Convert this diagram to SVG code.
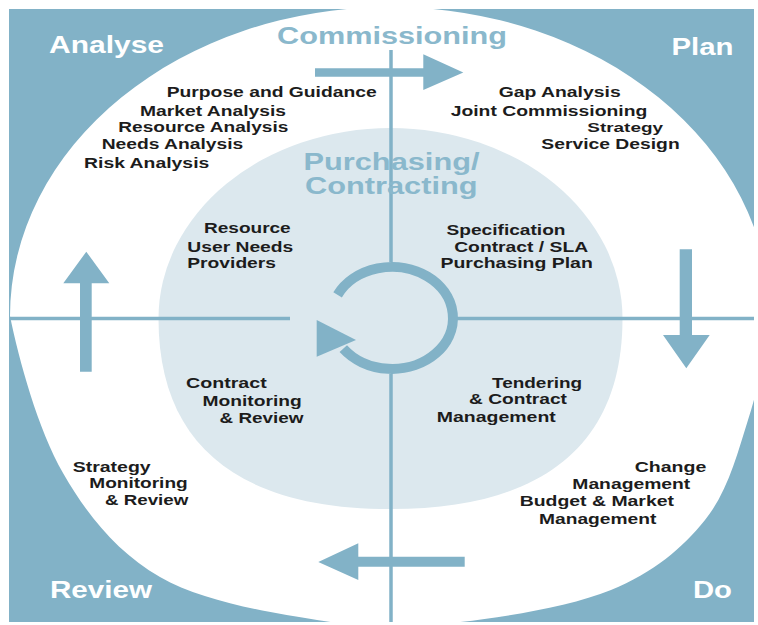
<svg xmlns="http://www.w3.org/2000/svg" width="758" height="625" viewBox="0 0 758 625">
<defs>
<style>
.bg{fill:#82b2c7}
.blue{fill:#82b2c7}
.ln{stroke:#82b2c7;stroke-width:3.5;fill:none}
.corner{font-family:"Liberation Sans",Arial,sans-serif;font-weight:bold;font-size:24px;fill:#ffffff}
.title{font-family:"Liberation Sans",Arial,sans-serif;font-weight:bold;font-size:23px;fill:#8ab8cc}
.t{font-family:"Liberation Sans",Arial,sans-serif;font-weight:bold;font-size:15.5px;fill:#1c1c1c}
.ts{font-family:"Liberation Sans",Arial,sans-serif;font-weight:bold;font-size:13px;fill:#1c1c1c}
</style>
<clipPath id="frame"><rect x="9" y="9" width="745" height="613"/></clipPath>
</defs>
<rect id="background" class="bg" x="9" y="9" width="745" height="613"/>
<g id="outer-ring" clip-path="url(#frame)">
<path fill="#ffffff" d="M10 316 A380 309 0 0 1 770 316 C766.3 350.7 758.8 386 748 420 C737.2 454 727.8 491.7 705 520 C682.2 548.3 653.3 572.8 611 590 C568.7 607.2 500 618 451 623 C402 628 365.5 627.7 317 620 C268.5 612.3 202.3 601.5 160 577 C117.7 552.5 88 516.5 63 473 C38 429.5 18.8 359.5 10 316 Z"/>
</g>
<g id="inner-circle">
<path fill="#dce8ee" d="M158.5 318.5 A232 190.5 0 0 1 622.5 318.5 C622.5 444.2 543.6 509 390.5 509 C237.4 509 158.5 444.2 158.5 318.5 Z"/>
</g>
<g id="connectors">
<line class="ln" x1="391" y1="50" x2="391" y2="262"/>
<line class="ln" x1="391" y1="374" x2="391" y2="622"/>
<line class="ln" x1="9" y1="318.5" x2="290" y2="318.5"/>
<line class="ln" x1="457" y1="318.5" x2="754" y2="318.5"/>
<path class="blue" d="M315 68.3 H423.3 V54.3 L463.3 72.5 L423.3 90 V76.7 H315 Z"/>
<path class="blue" d="M80 371.7 V283.3 H63.3 L86.3 251.7 L109.3 283.3 H91.7 V371.7 Z"/>
<path class="blue" d="M679.7 249.3 H692 V335 H709.7 L686.3 368.3 L663 335 H679.7 Z"/>
<path class="blue" d="M464.7 556.7 H358.3 V543.3 L318.3 562 L358.3 580 V566.7 H464.7 Z"/>
<path d="M337.6 294.8 A61 51 0 1 1 343.3 348.7" fill="none" stroke="#82b2c7" stroke-width="10"/>
<polygon class="blue" points="316.7,320 316.7,356.7 356,340"/>
</g>
<g id="corner-labels">
<text class="corner" x="49" y="52.5" textLength="115" lengthAdjust="spacingAndGlyphs">Analyse</text>
<text class="corner" x="671.5" y="55" textLength="62" lengthAdjust="spacingAndGlyphs">Plan</text>
<text class="corner" x="50" y="598" textLength="102" lengthAdjust="spacingAndGlyphs">Review</text>
<text class="corner" x="693" y="598" textLength="39" lengthAdjust="spacingAndGlyphs">Do</text>
</g>
<g id="commissioning">
<text class="title" x="277" y="43.5" textLength="230" lengthAdjust="spacingAndGlyphs">Commissioning</text>
</g>
<g id="purchasing">
<text class="title" x="303.5" y="169.5" textLength="176" lengthAdjust="spacingAndGlyphs">Purchasing/</text>
<text class="title" x="305" y="194" textLength="172.5" lengthAdjust="spacingAndGlyphs">Contracting</text>
</g>
<g id="analyse-items">
<text class="t" x="166.7" y="97.3" textLength="210" lengthAdjust="spacingAndGlyphs">Purpose and Guidance</text>
<text class="t" x="140" y="115.7" textLength="146" lengthAdjust="spacingAndGlyphs">Market Analysis</text>
<text class="t" x="118.3" y="132.3" textLength="170" lengthAdjust="spacingAndGlyphs">Resource Analysis</text>
<text class="t" x="101.7" y="149" textLength="141.6" lengthAdjust="spacingAndGlyphs">Needs Analysis</text>
<text class="t" x="84" y="168.3" textLength="125.3" lengthAdjust="spacingAndGlyphs">Risk Analysis</text>
</g>
<g id="plan-items">
<text class="t" x="498.7" y="96.7" textLength="122" lengthAdjust="spacingAndGlyphs">Gap Analysis</text>
<text class="t" x="450.7" y="115.7" textLength="196.6" lengthAdjust="spacingAndGlyphs">Joint Commissioning</text>
<text class="ts" x="587.3" y="131.7" textLength="75.7" lengthAdjust="spacingAndGlyphs">Strategy</text>
<text class="t" x="541.3" y="149" textLength="138.4" lengthAdjust="spacingAndGlyphs">Service Design</text>
</g>
<g id="inner-analyse">
<text class="t" x="204" y="233.3" textLength="86.7" lengthAdjust="spacingAndGlyphs">Resource</text>
<text class="t" x="187.3" y="251.7" textLength="106" lengthAdjust="spacingAndGlyphs">User Needs</text>
<text class="t" x="187.3" y="268.3" textLength="88.7" lengthAdjust="spacingAndGlyphs">Providers</text>
</g>
<g id="inner-plan">
<text class="t" x="446.5" y="234.5" textLength="119" lengthAdjust="spacingAndGlyphs">Specification</text>
<text class="t" x="454.2" y="252" textLength="134" lengthAdjust="spacingAndGlyphs">Contract / SLA</text>
<text class="t" x="440.5" y="268" textLength="152.3" lengthAdjust="spacingAndGlyphs">Purchasing Plan</text>
</g>
<g id="inner-review">
<text class="t" x="186" y="388.3" textLength="80.7" lengthAdjust="spacingAndGlyphs">Contract</text>
<text class="t" x="202.5" y="405.5" textLength="99.2" lengthAdjust="spacingAndGlyphs">Monitoring</text>
<text class="t" x="219.5" y="422.5" textLength="84" lengthAdjust="spacingAndGlyphs">&amp; Review</text>
</g>
<g id="inner-do">
<text class="t" x="492" y="388" textLength="90.2" lengthAdjust="spacingAndGlyphs">Tendering</text>
<text class="t" x="469" y="403.8" textLength="98" lengthAdjust="spacingAndGlyphs">&amp; Contract</text>
<text class="t" x="436.8" y="421.7" textLength="119" lengthAdjust="spacingAndGlyphs">Management</text>
</g>
<g id="review-items">
<text class="t" x="72.7" y="471.7" textLength="78" lengthAdjust="spacingAndGlyphs">Strategy</text>
<text class="t" x="89.3" y="488.3" textLength="98.4" lengthAdjust="spacingAndGlyphs">Monitoring</text>
<text class="t" x="105" y="505" textLength="83.3" lengthAdjust="spacingAndGlyphs">&amp; Review</text>
</g>
<g id="do-items">
<text class="t" x="634.7" y="471.7" textLength="71.6" lengthAdjust="spacingAndGlyphs">Change</text>
<text class="t" x="572.3" y="489" textLength="118" lengthAdjust="spacingAndGlyphs">Management</text>
<text class="t" x="519.7" y="506" textLength="154.3" lengthAdjust="spacingAndGlyphs">Budget &amp; Market</text>
<text class="t" x="539" y="524" textLength="117.3" lengthAdjust="spacingAndGlyphs">Management</text>
</g>
</svg>
